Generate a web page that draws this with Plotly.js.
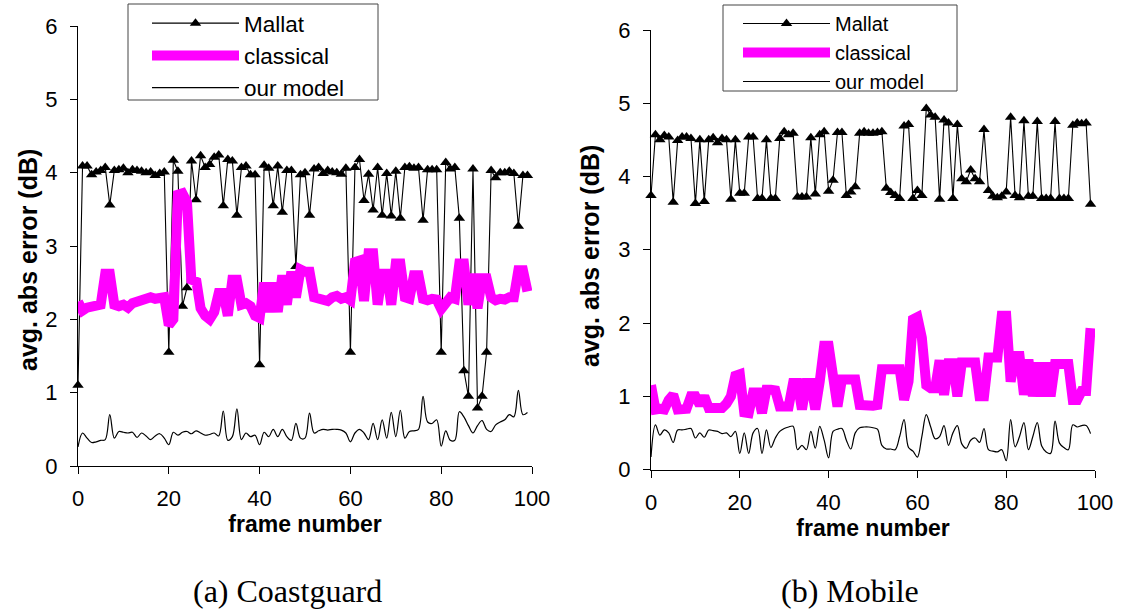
<!DOCTYPE html>
<html>
<head>
<meta charset="utf-8">
<script src="https://cdn.plot.ly/plotly-3.0.1.min.js"></script>
<style>
  html, body { margin: 0; padding: 0; background: #fff; }
  #chart { width: 1122px; height: 609px; }
</style>
</head>
<body>
<div id="chart"></div>
<script>
const frames = [0,1,2,3,4,5,6,7,8,9,10,11,12,13,14,15,16,17,18,19,20,21,22,23,24,25,26,27,28,29,30,31,32,33,34,35,36,37,38,39,40,41,42,43,44,45,46,47,48,49,50,51,52,53,54,55,56,57,58,59,60,61,62,63,64,65,66,67,68,69,70,71,72,73,74,75,76,77,78,79,80,81,82,83,84,85,86,87,88,89,90,91,92,93,94,95,96,97,98,99];

const seriesNames = ["Mallat", "classical", "our model"];
const panelTitles = ["(a) Coastguard", "(b) Mobile"];
const xTitle = "frame number";
const yTitle = "avg. abs error (dB)";
const xTicks = [0, 20, 40, 60, 80, 100];
const yTicks = [0, 1, 2, 3, 4, 5, 6];

// (a) Coastguard
const coastMallat = [1.1,4.09,4.09,3.97,4.01,4.03,4.07,3.56,4.03,4.04,4.06,4.0,4.04,4.03,4.02,4.0,4.01,3.96,3.99,4.01,1.55,4.17,4.02,2.18,2.43,4.16,3.63,4.23,4.07,4.11,4.21,4.24,3.55,4.18,4.16,3.42,4.07,4.09,3.97,3.97,1.38,4.1,4.06,3.55,4.09,3.46,4.03,4.03,2.72,3.97,4.0,3.42,4.05,4.07,3.99,4.03,4.01,4.0,3.98,4.06,1.55,4.07,4.18,3.62,3.98,3.49,4.07,3.42,3.99,3.41,4.02,3.38,4.07,4.08,4.06,4.07,3.35,4.04,4.04,4.04,1.55,4.14,4.05,4.07,3.38,1.3,0.95,4.05,0.79,0.95,1.55,4.03,3.93,4.0,4.0,4.02,3.99,3.27,3.96,3.96];
const coastClassical = [2.24,2.12,2.16,2.17,2.18,2.2,2.62,2.62,2.2,2.18,2.2,2.16,2.22,2.24,2.28,2.3,2.3,2.28,2.3,2.3,1.92,2.0,3.7,3.72,3.6,2.5,2.55,2.15,2.05,2.0,2.1,2.36,2.36,2.05,2.54,2.54,2.2,2.22,2.18,2.05,2.02,2.5,2.1,2.5,2.1,2.6,2.2,2.65,2.3,2.68,2.65,2.65,2.3,2.28,2.27,2.25,2.3,2.32,2.28,2.3,2.26,2.78,2.8,2.25,2.9,2.9,2.2,2.62,2.62,2.2,2.76,2.76,2.3,2.28,2.6,2.6,2.28,2.26,2.28,2.27,2.14,2.25,2.3,2.28,2.76,2.76,2.2,2.62,2.15,2.56,2.56,2.3,2.26,2.28,2.27,2.3,2.3,2.67,2.67,2.38];
const coastModel = [0.26,0.45,0.38,0.32,0.33,0.35,0.36,0.7,0.38,0.47,0.46,0.45,0.46,0.39,0.45,0.41,0.36,0.41,0.44,0.38,0.29,0.46,0.42,0.46,0.47,0.44,0.48,0.45,0.42,0.43,0.45,0.41,0.75,0.35,0.4,0.78,0.36,0.45,0.4,0.42,0.29,0.46,0.4,0.5,0.4,0.5,0.4,0.35,0.58,0.38,0.38,0.72,0.45,0.48,0.5,0.49,0.5,0.5,0.49,0.45,0.33,0.45,0.5,0.45,0.36,0.58,0.36,0.63,0.38,0.73,0.4,0.76,0.38,0.47,0.48,0.5,0.95,0.6,0.58,0.63,0.27,0.48,0.35,0.35,0.74,0.67,0.55,0.45,0.55,0.62,0.5,0.47,0.56,0.6,0.63,0.7,0.67,1.03,0.7,0.73];

// (b) Mobile
const mobileMallat = [3.74,4.57,4.5,4.56,4.54,3.65,4.49,4.54,4.54,4.52,3.63,4.5,3.66,4.5,4.53,4.46,4.52,4.5,3.69,4.5,3.77,3.77,4.54,4.54,3.7,3.7,4.5,3.7,3.7,4.52,4.61,4.57,4.59,3.72,3.72,3.72,4.53,3.76,4.57,4.61,3.8,3.95,4.6,4.6,3.74,3.79,3.86,4.59,4.61,4.59,4.59,4.6,4.61,3.84,3.78,3.74,3.7,4.69,4.71,3.7,3.81,3.74,4.93,4.84,4.81,3.69,4.77,4.73,3.7,4.71,3.97,3.93,4.09,3.97,3.93,4.64,3.81,3.73,3.71,3.73,3.79,4.81,3.74,3.71,4.76,3.73,3.73,4.75,3.7,3.7,3.7,4.75,3.7,3.7,3.7,4.7,4.73,4.72,4.73,3.62];
const mobileClassical = [1.15,0.82,0.83,0.82,0.95,1.02,0.82,0.82,0.83,1.0,1.0,0.88,1.0,0.84,0.84,0.84,0.84,0.9,1.0,1.28,1.3,0.78,0.77,1.05,1.05,0.77,1.09,1.09,1.08,0.86,0.86,0.86,1.18,1.18,0.82,1.18,1.18,0.82,1.2,1.69,1.69,1.2,0.86,1.23,1.23,1.22,1.23,0.88,0.87,0.88,0.87,0.88,1.37,1.37,1.38,1.37,1.37,0.95,1.2,2.05,2.08,1.8,1.15,1.11,1.11,1.49,1.02,1.45,1.45,1.0,1.46,1.46,1.46,1.46,1.0,1.0,1.53,1.53,1.53,2.1,2.1,1.2,1.55,1.55,1.02,1.5,1.0,1.46,1.0,1.46,1.0,1.44,1.44,1.44,1.44,0.95,0.95,1.07,1.07,1.93];
const mobileModel = [0.17,0.61,0.47,0.54,0.5,0.37,0.54,0.54,0.55,0.56,0.43,0.5,0.44,0.54,0.53,0.52,0.49,0.5,0.45,0.52,0.22,0.5,0.22,0.5,0.56,0.22,0.54,0.3,0.43,0.52,0.56,0.58,0.59,0.27,0.33,0.27,0.52,0.29,0.59,0.4,0.16,0.52,0.55,0.56,0.4,0.28,0.5,0.57,0.58,0.58,0.57,0.55,0.33,0.28,0.28,0.27,0.45,0.68,0.3,0.25,0.17,0.45,0.75,0.58,0.42,0.45,0.6,0.33,0.5,0.6,0.35,0.29,0.4,0.43,0.37,0.56,0.27,0.25,0.24,0.27,0.12,0.68,0.31,0.45,0.64,0.27,0.45,0.64,0.32,0.24,0.22,0.66,0.36,0.3,0.27,0.61,0.58,0.6,0.6,0.49];

const W = 1122, H = 609;
const SANS = "Liberation Sans, Arial, sans-serif";
const SERIF = "Liberation Serif, Times New Roman, serif";

function traces(mallat, classical, model, xa, ya, leg) {
  return [
    { x: frames, y: mallat, xaxis: xa, yaxis: ya, legend: leg, name: seriesNames[0], type: "scatter",
      mode: "lines+markers", line: { color: "#000", width: 1.1 },
      marker: { symbol: "triangle-up", size: 10, color: "#000" }, cliponaxis: false },
    { x: frames, y: classical, xaxis: xa, yaxis: ya, legend: leg, name: seriesNames[1], type: "scatter",
      mode: "lines", line: { color: "#FF00FF", width: 10 } },
    { x: frames, y: model, xaxis: xa, yaxis: ya, legend: leg, name: seriesNames[2], type: "scatter",
      mode: "lines", line: { color: "#000", width: 1.2, shape: "spline", smoothing: 1 } }
  ];
}

const data = [
  ...traces(coastMallat, coastClassical, coastModel, "x", "y", "legend"),
  ...traces(mobileMallat, mobileClassical, mobileModel, "x2", "y2", "legend2")
];

function xax(d, anchor) {
  return {
    domain: d, range: [0, 100], tickvals: xTicks, ticks: "outside", ticklen: 7, tickcolor: "#000",
    showline: true, linecolor: "#000", linewidth: 1, showgrid: false, zeroline: false, anchor: anchor,
    tickfont: { family: SANS, size: 22, color: "#000" }, ticklabelstandoff: 6,
    title: { text: "<b>" + xTitle + "</b>", font: { family: SANS, size: 23, color: "#000" }, standoff: 0 }
  };
}
function yax(d, anchor) {
  return {
    domain: d, range: [0, 6], tickvals: yTicks, ticks: "outside", ticklen: 7, tickcolor: "#000",
    showline: true, linecolor: "#000", linewidth: 1, showgrid: false, zeroline: false, anchor: anchor,
    tickfont: { family: SANS, size: 22, color: "#000" }, ticklabelstandoff: 8
  };
}

const legendCommon = {
  xanchor: "left", yanchor: "top", bgcolor: "rgba(0,0,0,0)", borderwidth: 0,
  tracegroupgap: 0, itemwidth: 87
};

const layout = {
  width: W, height: H,
  margin: { l: 0, r: 0, t: 0, b: 0 },
  paper_bgcolor: "#fff", plot_bgcolor: "#fff",
  showlegend: true,
  xaxis: xax([78 / W, 532 / W], "y"),
  yaxis: yax([1 - 466 / H, 1 - 26 / H], "x"),
  xaxis2: xax([651 / W, 1095 / W], "y2"),
  yaxis2: yax([1 - 469.5 / H, 1 - 30 / H], "x2"),
  legend: Object.assign({}, legendCommon, {
    x: 147 / W, y: 1 - 2 / H,
    font: { family: SANS, size: 22.5, color: "#000" }
  }),
  legend2: Object.assign({}, legendCommon, {
    x: 738 / W, y: 1 - 4 / H,
    font: { family: SANS, size: 20, color: "#000" }
  }),
  shapes: [
    { type: "rect", xref: "paper", yref: "paper", x0: 128 / W, x1: 378 / W, y0: 1 - 100 / H, y1: 1 - 4 / H,
      line: { color: "#444", width: 1 }, fillcolor: "rgba(0,0,0,0)", layer: "below" },
    { type: "rect", xref: "paper", yref: "paper", x0: 723 / W, x1: 957 / W, y0: 1 - 91 / H, y1: 1 - 5 / H,
      line: { color: "#444", width: 1 }, fillcolor: "rgba(0,0,0,0)", layer: "below" }
  ],
  annotations: [
    { text: "<b>" + yTitle + "</b>", xref: "paper", yref: "paper", x: 28 / W, y: 1 - 260 / H,
      xanchor: "center", yanchor: "middle", showarrow: false, textangle: -90,
      font: { family: SANS, size: 25, color: "#000" } },
    { text: "<b>" + yTitle + "</b>", xref: "paper", yref: "paper", x: 590 / W, y: 1 - 256 / H,
      xanchor: "center", yanchor: "middle", showarrow: false, textangle: -90,
      font: { family: SANS, size: 25, color: "#000" } },
    { text: panelTitles[0], xref: "paper", yref: "paper", x: 287 / W, y: 1 - 591 / H,
      xanchor: "center", yanchor: "middle", showarrow: false,
      font: { family: SERIF, size: 32, color: "#000" } },
    { text: panelTitles[1], xref: "paper", yref: "paper", x: 850 / W, y: 1 - 591 / H,
      xanchor: "center", yanchor: "middle", showarrow: false,
      font: { family: SERIF, size: 32, color: "#000" } }
  ]
};

Plotly.newPlot("chart", data, layout, { displayModeBar: false, staticPlot: true });
</script>
</body>
</html>
